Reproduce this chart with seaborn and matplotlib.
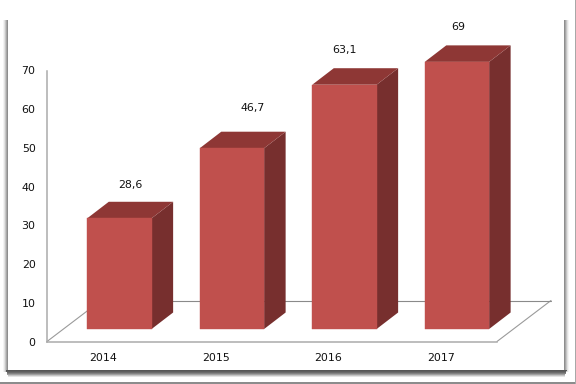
import matplotlib
matplotlib.use("Agg")
import matplotlib.pyplot as plt
from matplotlib.patches import Polygon, Rectangle
from matplotlib.transforms import Affine2D
from matplotlib.lines import Line2D
import seaborn as sns
import pandas as pd

years = ["2014", "2015", "2016", "2017"]
values = [28.6, 46.7, 63.1, 69]
value_labels = ["28,6", "46,7", "63,1", "69"]

# layout constants, in pixels
W, H = 576, 384
PLOT_L, PLOT_R, PLOT_TOP, PLOT_BOT = 47, 497, 70.5, 341.5
FLOOR_DX, FLOOR_DY = 54, 41
BAR_SHIFT_X, BAR_SHIFT_Y = 16.2, 12.5
BAR_DX, BAR_DY = 21.5, 16.5
LABEL_DX = [10.5, 20.7, 0.5, 1.7]
LABEL_GAP = [33.5, 40, 35, 35]
CARD_L, CARD_T, CARD_R, CARD_B = 8, 18, 563.5, 369.5

FRONT, SIDE, TOP = "#C0504D", "#772F2E", "#8E3735"
SHADOW_BOTTOM = ["#565656", "#5E5E5E", "#6C6C6C", "#828282", "#A0A0A0", "#C4C4C4", "#E4E4E4"]
SHADOW_SIDE = ["#8E8E8E", "#A8A8A8", "#C6C6C6", "#E2E2E2", "#F4F4F4"]

sns.set_theme(style="white")
plt.rcParams["font.family"] = ["DejaVu Sans"]
fig = plt.figure(figsize=(W / 100, H / 100), dpi=100, facecolor="white")


def px_rect(x0, y0, x1, y1, **kw):
    """Rectangle given in image pixels (y measured from the top)."""
    r = Rectangle((x0, H - y1), x1 - x0, y1 - y0, transform=None, ec="none", **kw)
    fig.add_artist(r)
    return r


# page frame lines
px_rect(0, 382, W, 384, fc="#8C8C8C", zorder=0)
px_rect(574.5, 0, W, 384, fc="#A8A8A8", zorder=0)
# stepped shadow of the card
for k, c in reversed(list(enumerate(SHADOW_SIDE))):
    px_rect(CARD_L - k - 1, CARD_T + 2, CARD_L - k, CARD_B + 2, fc=c, zorder=1)
    px_rect(CARD_R + k, CARD_T + 2, CARD_R + k + 1, CARD_B + 2, fc=c, zorder=1)
for k, c in reversed(list(enumerate(SHADOW_BOTTOM))):
    px_rect(CARD_L - 2 + k * 0.3, CARD_B + k, CARD_R + 3 - k * 0.3, CARD_B + k + 1, fc=c, zorder=1)
px_rect(CARD_L, CARD_T - 0.5, CARD_R, CARD_T + 0.5, fc="#F2F2F2", zorder=1)
px_rect(CARD_L, CARD_T, CARD_R, CARD_B, fc="white", zorder=2)

ax = fig.add_axes([PLOT_L / W, 1 - PLOT_BOT / H, (PLOT_R - PLOT_L) / W, (PLOT_BOT - PLOT_TOP) / H], zorder=3)
ax.patch.set_alpha(0)

df = pd.DataFrame({"year": years, "value": values})
sns.barplot(data=df, x="year", y="value", color=FRONT, saturation=1, width=0.572, ax=ax, zorder=5)

ax.set_ylim(0, 70)
ax.set_xlim(-0.5, 3.5)
ax.set_yticks(range(0, 71, 10))
ax.set_xlabel("")
ax.set_ylabel("")
for s in ("top", "right"):
    ax.spines[s].set_visible(False)
for s in ("left", "bottom"):
    ax.spines[s].set_color("#ABABAB")
    ax.spines[s].set_linewidth(1.1)
ax.tick_params(axis="y", length=0, pad=8.2, labelsize=7.9, labelcolor="#111111")
ax.tick_params(axis="x", length=0, pad=8.2, labelsize=7.9, labelcolor="#111111")

# floor parallelogram, anchored to the axes and shifted by the depth
floor = Affine2D().translate(FLOOR_DX, FLOOR_DY)
line_kw = dict(color="#8A8A8A", lw=0.8, zorder=1, clip_on=False)
ax.plot([0, 1], [0, 0], transform=ax.transAxes + floor, **line_kw)
left_pt = ax.transAxes.transform((0, 0))
right_pt = ax.transAxes.transform((1, 0))
for p in (left_pt, right_pt):
    fig.add_artist(Line2D([p[0], p[0] + FLOOR_DX], [p[1], p[1] + FLOOR_DY], transform=None,
                          color="#9A9A9A", lw=0.8, zorder=3))

# 3-D bars: front face from seaborn, side and top faces derived from it
shift = Affine2D().translate(BAR_SHIFT_X, BAR_SHIFT_Y)
for i, bar in enumerate(ax.patches[:len(values)]):
    x0, x1 = bar.get_x(), bar.get_x() + bar.get_width()
    h = bar.get_height()
    (px0, py0), (px1, py1) = ax.transData.transform([(x0, 0), (x1, h)])
    px0 += BAR_SHIFT_X; px1 += BAR_SHIFT_X
    py0 += BAR_SHIFT_Y; py1 += BAR_SHIFT_Y
    bar.set_transform(ax.transData + shift)
    bar.set_clip_on(False)
    bar.set_edgecolor(FRONT)
    bar.set_linewidth(0.3)
    side = Polygon([(px1, py0), (px1 + BAR_DX, py0 + BAR_DY), (px1 + BAR_DX, py1 + BAR_DY), (px1, py1)],
                   closed=True, transform=None, fc=SIDE, ec="none", zorder=4, clip_on=False)
    top = Polygon([(px0, py1), (px1, py1), (px1 + BAR_DX, py1 + BAR_DY), (px0 + BAR_DX, py1 + BAR_DY)],
                  closed=True, transform=None, fc=TOP, ec="none", zorder=4, clip_on=False)
    ax.add_artist(side)
    ax.add_artist(top)
    ax.annotate(value_labels[i], xy=((x0 + x1) / 2, h), xycoords="data",
                xytext=((LABEL_DX[i] + BAR_SHIFT_X) * 0.72, (LABEL_GAP[i] + BAR_SHIFT_Y) * 0.72),
                textcoords="offset points", ha="center", va="center",
                fontsize=7.9, color="#111111", annotation_clip=False, zorder=6)

fig.savefig("out.png", dpi=100)
